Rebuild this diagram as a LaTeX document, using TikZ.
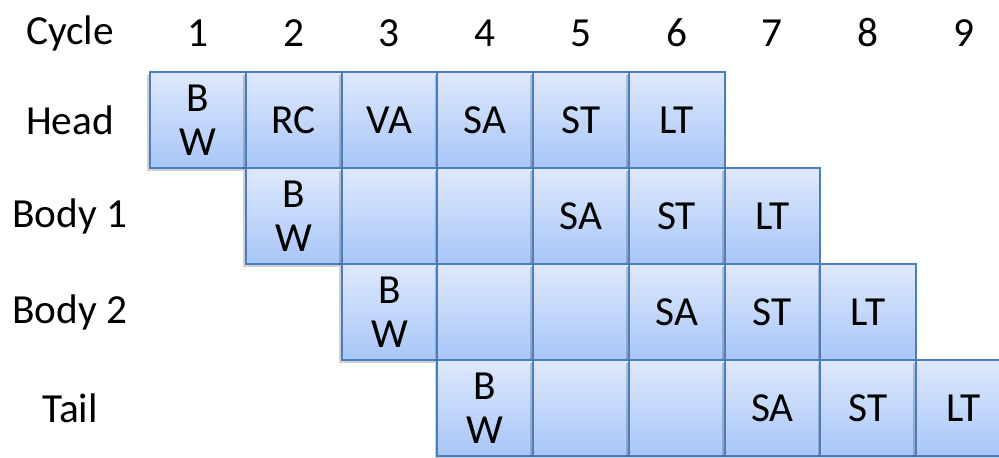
\documentclass[tikz,border=0pt]{standalone}
\usepackage{fontspec}
\setmainfont{Carlito}
\usepackage{xcolor}
\usetikzlibrary{positioning,shadows}
\definecolor{cellTop}{RGB}{222,233,252}
\definecolor{cellBot}{RGB}{168,198,247}
\definecolor{cellLine}{RGB}{74,126,187}

\begin{document}
\begin{tikzpicture}[x=0.75pt,y=-0.75pt,
  node distance=0pt,
  cell/.style={draw=cellLine,line width=1.5pt,outer sep=0pt,
    top color=cellTop,bottom color=cellBot,align=center,
    minimum width=71.8pt,minimum height=72pt,inner sep=0pt,
    font=\fontsize{31}{33}\selectfont,
    drop shadow={shadow xshift=-2pt,shadow yshift=-2pt,opacity=.18,fill=black}},
  lbl/.style={font=\fontsize{31}{33}\selectfont,inner sep=0pt}]
\useasboundingbox (0,0) rectangle (999,457);
% row labels
\node[lbl] (cyc) at (70,33) {Cycle};
\node[lbl] (rhead) at (70,120) {Head};
\node[lbl] (rbody1) at (70,216) {Body 1};
\node[lbl] (rbody2) at (70,312) {Body 2};
\node[lbl] (rtail) at (70,408) {Tail};
% cycle numbers
\foreach \k in {1,...,9}
  \node[lbl] (n\k) at ({198+95.7*(\k-1)},33) {\k};
% head flit
\node[cell] (h1) at (198,120) {B\\W};
\node[cell,right=of h1] (h2) {RC};
\node[cell,right=of h2] (h3) {VA};
\node[cell,right=of h3] (h4) {SA};
\node[cell,right=of h4] (h5) {ST};
\node[cell,right=of h5] (h6) {LT};
% body 1
\node[cell,below=of h2] (a2) {B\\W};
\node[cell,right=of a2] (a3) {};
\node[cell,right=of a3] (a4) {};
\node[cell,right=of a4] (a5) {SA};
\node[cell,right=of a5] (a6) {ST};
\node[cell,right=of a6] (a7) {LT};
% body 2
\node[cell,below=of a3] (b3) {B\\W};
\node[cell,right=of b3] (b4) {};
\node[cell,right=of b4] (b5) {};
\node[cell,right=of b5] (b6) {SA};
\node[cell,right=of b6] (b7) {ST};
\node[cell,right=of b7] (b8) {LT};
% tail flit
\node[cell,below=of b4] (t4) {B\\W};
\node[cell,right=of t4] (t5) {};
\node[cell,right=of t5] (t6) {};
\node[cell,right=of t6] (t7) {SA};
\node[cell,right=of t7] (t8) {ST};
\node[cell,right=of t8] (t9) {LT};
\end{tikzpicture}
\end{document}
